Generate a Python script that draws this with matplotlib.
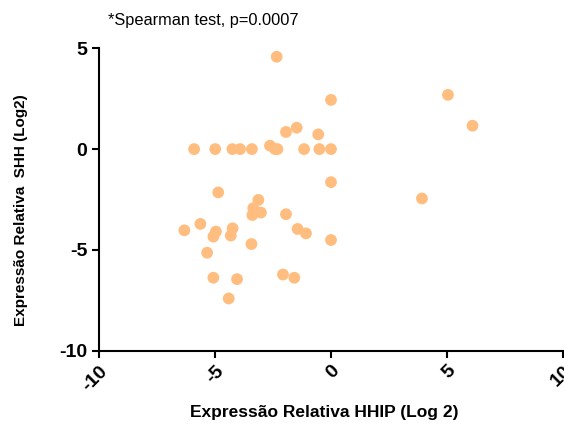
import matplotlib
matplotlib.use("Agg")
import matplotlib.pyplot as plt

hhip = [-2.34, 0.0, -1.94, -1.48, -0.55,
        -5.9, -4.99, -4.25, -3.92, -3.41, -2.63, -2.41, -2.31, -1.16, -0.50, 0.0,
        5.04, 6.1, 0.0, 3.92,
        -4.86, -3.13, -3.35, -3.39, -3.02, -1.94, -5.63, -6.32, -4.96, -5.07,
        -4.24, -4.32, -1.44, -1.08, 0.0, -3.43, -5.34, -5.07, -4.05, -2.07,
        -1.58, -4.41]
shh = [4.58, 2.44, 0.85, 1.06, 0.73,
       0.0, 0.0, 0.0, 0.0, 0.0, 0.17, 0.0, 0.0, 0.0, 0.0, 0.0,
       2.69, 1.16, -1.64, -2.45,
       -2.15, -2.52, -2.93, -3.27, -3.15, -3.23, -3.71, -4.03, -4.09, -4.34,
       -3.93, -4.29, -3.96, -4.18, -4.51, -4.71, -5.14, -6.38, -6.45, -6.22,
       -6.38, -7.41]

xticks = [-10, -5, 0, 5, 10]
yticks = [-10, -5, 0, 5]

plt.rcParams['font.family'] = ['Liberation Sans', 'DejaVu Sans']

fig = plt.figure(figsize=(5.64, 4.29), dpi=100)
ax = fig.add_axes([99/564, 1-350.7/429, (563-99)/564, (350.7-48.3)/429])
ax.scatter(hhip, shh, s=72, color='#FFBE80', edgecolors='none', zorder=3, clip_on=False)
ax.set_xlim(-10, 10)
ax.set_ylim(-10, 5)
ax.spines['top'].set_visible(False)
ax.spines['right'].set_visible(False)
for sp in ['left', 'bottom']:
    ax.spines[sp].set_linewidth(1.5)
ax.set_xticks(xticks)
ax.set_yticks(yticks)
ax.tick_params(width=1.5, length=5, direction='out')
ax.set_xticklabels([str(t) for t in xticks], rotation=45, ha='right', va='top',
                   rotation_mode='anchor', fontsize=14, fontweight='bold')
ax.set_yticklabels([str(t) for t in yticks], fontsize=14, fontweight='bold')
ax.set_xlabel('Expressão Relativa HHIP (Log 2)', fontsize=12.5, fontweight='bold')
ax.xaxis.set_label_coords(0.486, -0.206)
ax.xaxis.label.set_va('center')
ax.set_ylabel('Expressão Relativa  SHH (Log2)', fontsize=11, fontweight='bold')
ax.yaxis.set_label_coords(-0.168, 0.465)
ax.yaxis.label.set_va('center')
fig.text(108/564, 1-20/429, '*Spearman test, p=0.0007', fontsize=11.8, va='center', ha='left')
fig.savefig('out.png', dpi=100)
